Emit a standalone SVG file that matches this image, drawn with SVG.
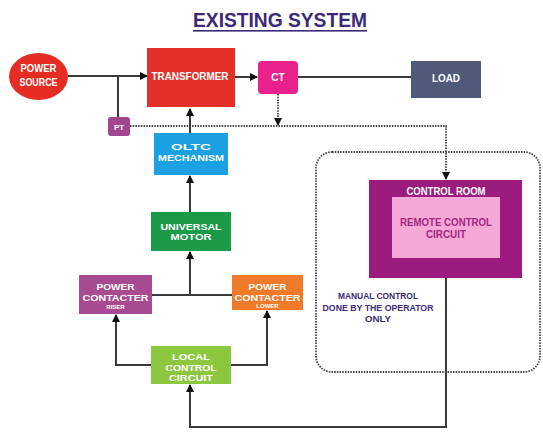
<svg xmlns="http://www.w3.org/2000/svg" width="543" height="432" viewBox="0 0 543 432">
<defs>
<marker id="ah" markerWidth="8" markerHeight="8" refX="7" refY="4" orient="auto" markerUnits="userSpaceOnUse">
<path d="M0,0 L8,4 L0,8 Z" fill="#111"/>
</marker>
<style>
.t{font-family:"Liberation Sans",Arial,sans-serif;font-weight:bold;fill:#fff;text-anchor:middle}
.w{fill:none;stroke:#3a3a3a;stroke-width:2}
.d{fill:none;stroke:#444;stroke-width:1.8;stroke-dasharray:1.5 1.2}
.p{font-family:"Liberation Sans",Arial,sans-serif;font-weight:bold;text-anchor:middle}
</style>
</defs>
<rect width="543" height="432" fill="#fff"/>
<g id="title">
<text x="280" y="27" class="p" font-size="20" fill="#3b2a78" textLength="174" lengthAdjust="spacingAndGlyphs">EXISTING SYSTEM</text>
<rect x="193" y="30" width="174" height="1.6" fill="#3b2a78"/>
</g>
<g id="connectors">
<line x1="68" y1="76" x2="147" y2="76" class="w" marker-end="url(#ah)"/>
<line x1="118" y1="76" x2="118" y2="120" class="w"/>
<line x1="235" y1="77" x2="257" y2="77" class="w" marker-end="url(#ah)"/>
<line x1="298" y1="77" x2="411" y2="77" class="w"/>
<line x1="278" y1="94" x2="278" y2="125" class="d" marker-end="url(#ah)"/>
<polyline points="130,126 446,126 446,179" class="d" marker-end="url(#ah)"/>
<line x1="190" y1="133" x2="190" y2="109" class="w" marker-end="url(#ah)"/>
<line x1="190" y1="212" x2="190" y2="176" class="w" marker-end="url(#ah)"/>
<line x1="152" y1="295" x2="232" y2="295" class="w"/>
<line x1="190" y1="295" x2="190" y2="252" class="w" marker-end="url(#ah)"/>
<polyline points="151,365 116,365 116,315" class="w" marker-end="url(#ah)"/>
<polyline points="231,365 267,365 267,311" class="w" marker-end="url(#ah)"/>
<polyline points="446,278 446,427 190,427 190,385" class="w" marker-end="url(#ah)"/>
<rect x="316" y="152" width="224" height="220" rx="16" class="d"/>
</g>
<g id="power-source">
<ellipse cx="38.5" cy="76.5" rx="29.5" ry="23.5" fill="#e52d24"/>
<text x="38.5" y="72" class="t" font-size="11" textLength="36" lengthAdjust="spacingAndGlyphs">POWER</text>
<text x="38.5" y="86" class="t" font-size="11" textLength="38" lengthAdjust="spacingAndGlyphs">SOURCE</text>
</g>
<g id="transformer">
<rect x="147" y="48" width="88" height="59" fill="#e5302a"/>
<text x="190" y="80" class="t" font-size="11" textLength="77" lengthAdjust="spacingAndGlyphs">TRANSFORMER</text>
</g>
<g id="ct">
<rect x="258" y="61" width="40" height="33" rx="4" fill="#e8218c"/>
<text x="278" y="81" class="t" font-size="10">CT</text>
</g>
<g id="load">
<rect x="411" y="61" width="70" height="37" fill="#4f5a7a"/>
<text x="446" y="82" class="t" font-size="10" textLength="28" lengthAdjust="spacingAndGlyphs">LOAD</text>
</g>
<g id="pt">
<rect x="108" y="117" width="22" height="19" rx="3" fill="#a2448e"/>
<text x="119" y="129.5" class="t" font-size="8">PT</text>
</g>
<g id="oltc">
<rect x="154" y="133" width="74" height="42" fill="#1ba1e2"/>
<text x="191" y="150" class="t" font-size="9" textLength="40" lengthAdjust="spacingAndGlyphs">OLTC</text>
<text x="191" y="161" class="t" font-size="9" textLength="66" lengthAdjust="spacingAndGlyphs">MECHANISM</text>
</g>
<g id="universal-motor">
<rect x="151" y="212" width="80" height="39" fill="#1b9a48"/>
<text x="191" y="229.5" class="t" font-size="9" textLength="61" lengthAdjust="spacingAndGlyphs">UNIVERSAL</text>
<text x="191" y="240" class="t" font-size="9" textLength="41" lengthAdjust="spacingAndGlyphs">MOTOR</text>
</g>
<g id="contacter-riser">
<rect x="79" y="275" width="73" height="39" fill="#a84a8f"/>
<text x="115.5" y="289.5" class="t" font-size="9" textLength="38" lengthAdjust="spacingAndGlyphs">POWER</text>
<text x="115.5" y="300.5" class="t" font-size="9" textLength="66" lengthAdjust="spacingAndGlyphs">CONTACTER</text>
<text x="115.5" y="308.5" class="t" font-size="6">RISER</text>
</g>
<g id="contacter-lower">
<rect x="232" y="275" width="71" height="35" fill="#ef7b2a"/>
<text x="267.5" y="289.5" class="t" font-size="9" textLength="38" lengthAdjust="spacingAndGlyphs">POWER</text>
<text x="267.5" y="300.5" class="t" font-size="9" textLength="66" lengthAdjust="spacingAndGlyphs">CONTACTER</text>
<text x="267.5" y="308" class="t" font-size="6">LOWER</text>
</g>
<g id="local-control">
<rect x="151" y="346" width="80" height="38" fill="#8dc63f"/>
<text x="191" y="359.5" class="t" font-size="9" textLength="38" lengthAdjust="spacingAndGlyphs">LOCAL</text>
<text x="191" y="370.5" class="t" font-size="9" textLength="51" lengthAdjust="spacingAndGlyphs">CONTROL</text>
<text x="191" y="381" class="t" font-size="9" textLength="44" lengthAdjust="spacingAndGlyphs">CIRCUIT</text>
</g>
<g id="control-room">
<rect x="369" y="180" width="153" height="98" fill="#9b1b7e"/>
<text x="446" y="195" class="t" font-size="10" textLength="79" lengthAdjust="spacingAndGlyphs">CONTROL ROOM</text>
<rect x="392" y="197" width="108" height="61" fill="#f5a7d8"/>
<text x="446" y="226" class="p" font-size="10" fill="#a0267f" textLength="92" lengthAdjust="spacingAndGlyphs">REMOTE CONTROL</text>
<text x="446" y="237.5" class="p" font-size="10" fill="#a0267f" textLength="40" lengthAdjust="spacingAndGlyphs">CIRCUIT</text>
</g>
<g id="manual-note">
<text x="378" y="298.5" class="p" font-size="9.5" fill="#3b2a78" textLength="80" lengthAdjust="spacingAndGlyphs">MANUAL CONTROL</text>
<text x="378" y="310.5" class="p" font-size="9.5" fill="#3b2a78" textLength="111" lengthAdjust="spacingAndGlyphs">DONE BY THE OPERATOR</text>
<text x="378" y="322" class="p" font-size="9.5" fill="#3b2a78" textLength="26" lengthAdjust="spacingAndGlyphs">ONLY</text>
</g>
</svg>
